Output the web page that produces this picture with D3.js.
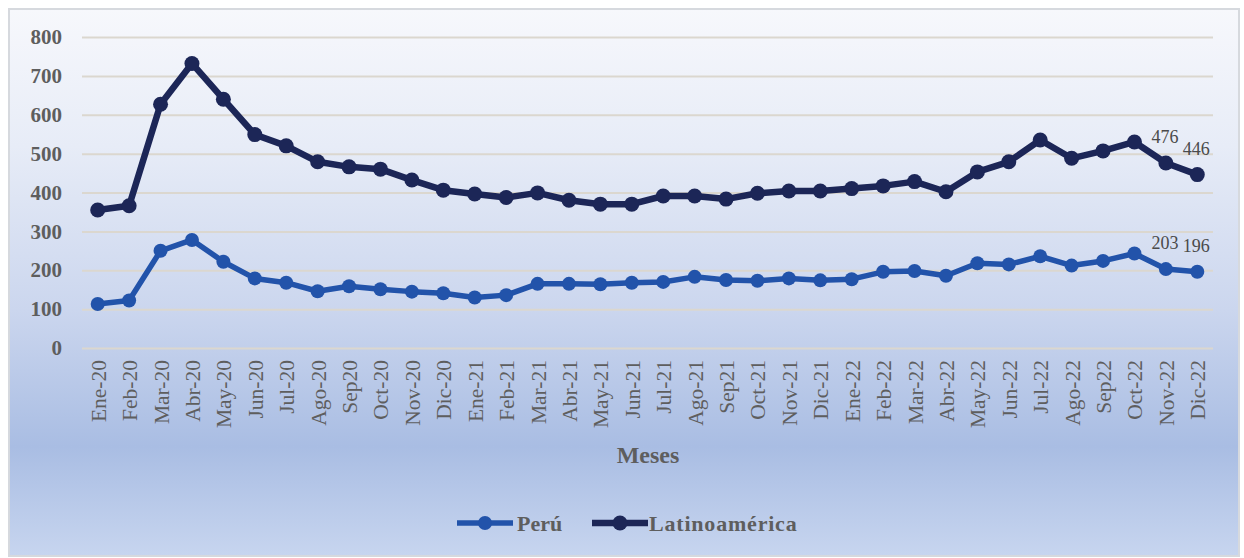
<!DOCTYPE html>
<html>
<head>
<meta charset="utf-8">
<script src="https://cdn.jsdelivr.net/npm/d3@7"></script>
<style>
  html, body { margin: 0; padding: 0; background: #ffffff; }
  svg { display: block; }
  text { font-family: "Liberation Serif", "Times New Roman", serif; }
</style>
</head>
<body>
<svg id="chart" width="1244" height="558"></svg>
<script>
const months = ["Ene-20","Feb-20","Mar-20","Abr-20","May-20","Jun-20","Jul-20","Ago-20","Sep20","Oct-20","Nov-20","Dic-20",
  "Ene-21","Feb-21","Mar-21","Abr-21","May-21","Jun-21","Jul-21","Ago-21","Sep21","Oct-21","Nov-21","Dic-21",
  "Ene-22","Feb-22","Mar-22","Abr-22","May-22","Jun-22","Jul-22","Ago-22","Sep22","Oct-22","Nov-22","Dic-22"];
const peru = [113,122,250,278,222,179,168,146,159,151,145,141,
  130,136,165,165,164,168,170,183,175,173,179,174,
  177,196,198,186,218,215,236,212,224,243,203,196];
const latam = [355,366,627,732,640,549,520,479,466,460,432,406,
  396,387,399,380,370,370,391,391,383,398,404,404,
  410,417,428,402,453,479,535,488,507,530,476,446];
const yTicks = [0,100,200,300,400,500,600,700,800];
const labeledIdx = [34,35];
const seriesNames = ["Perú","Latinoamérica"];
const seriesColors = ["#2253aa","#1c2657"];

const svg = d3.select("#chart");
const pL = 82, pR = 1213, pT = 37, pB = 348;

// background
const defs = svg.append("defs");
const grad = defs.append("linearGradient").attr("id","bg").attr("x1",0).attr("y1",0).attr("x2",0).attr("y2",1);
[[0,"#f7f8fc"],[0.25,"#e7ecf7"],[0.55,"#cbd6ee"],[0.8,"#a9bde3"],[1,"#c7d5ef"]].forEach(s=>{
  grad.append("stop").attr("offset",s[0]).attr("stop-color",s[1]);
});
svg.append("rect").attr("x",9).attr("y",9).attr("width",1230).attr("height",547)
  .attr("fill","url(#bg)").attr("stroke","#d6d9de").attr("stroke-width",2);

const x = d3.scalePoint().domain(months).range([pL,pR]).padding(0.5);
const y = d3.scaleLinear().domain([0,800]).range([pB,pT]);

// y axis with gridlines
const yAxis = svg.append("g").attr("transform",`translate(${pL},0)`)
  .call(d3.axisLeft(y).tickValues(yTicks).tickSize(-(pR-pL)).tickPadding(20).tickFormat(d3.format("d")));
yAxis.select(".domain").remove();
yAxis.selectAll(".tick line").attr("stroke","#dbd7cf").attr("stroke-width",2);
yAxis.selectAll(".tick text").attr("fill","#5e5e5e").attr("font-size","21px").attr("font-weight","bold")
  .style("font-family","'Liberation Serif', serif");

// x axis
const xAxis = svg.append("g").attr("transform",`translate(0,${pB})`)
  .call(d3.axisBottom(x).tickSize(0));
xAxis.select(".domain").remove();
xAxis.selectAll(".tick text")
  .attr("transform","rotate(-90)")
  .attr("x",-12).attr("y",0).attr("dy","0.35em")
  .attr("text-anchor","end")
  .attr("fill","#5e5e5e").attr("font-size","21.5px")
  .style("font-family","'Liberation Serif', serif");

// axis title
svg.append("text").attr("x",(pL+pR)/2 + 0.5).attr("y",463).attr("text-anchor","middle")
  .attr("font-size","24px").attr("font-weight","bold").attr("fill","#5e5e5e").text("Meses");

const line = d3.line().x((d,i)=>x(months[i])).y(d=>y(d));
const series = [peru, latam];
const widths = [5.5, 6.5];
const radii = [7, 7.5];
series.forEach((vals, si) => {
  svg.append("path").datum(vals).attr("d",line).attr("fill","none")
    .attr("stroke",seriesColors[si]).attr("stroke-width",widths[si]).attr("stroke-linejoin","round");
  svg.append("g").selectAll("circle").data(vals).join("circle")
    .attr("cx",(d,i)=>x(months[i])).attr("cy",d=>y(d)).attr("r",radii[si]).attr("fill",seriesColors[si]);
  svg.append("g").selectAll("text").data(labeledIdx).join("text")
    .attr("x",i=>x(months[i]) - 1).attr("y",i=>y(vals[i]) - 20)
    .attr("text-anchor","middle").attr("font-size","18px").attr("fill","#4a4a4a")
    .text(i=>vals[i]);
});

// legend
const legendItems = [
  {name: seriesNames[0], color: seriesColors[0], x0: 457, x1: 513, tx: 517, w: 5.5, r: 7},
  {name: seriesNames[1], color: seriesColors[1], x0: 592, x1: 648, tx: 649, w: 6.5, r: 7.5}
];
const ly = 523;
legendItems.forEach(it => {
  svg.append("line").attr("x1",it.x0).attr("x2",it.x1).attr("y1",ly).attr("y2",ly)
    .attr("stroke",it.color).attr("stroke-width",it.w);
  svg.append("circle").attr("cx",(it.x0+it.x1)/2).attr("cy",ly).attr("r",it.r).attr("fill",it.color);
  svg.append("text").attr("x",it.tx).attr("y",ly).attr("dy","0.35em")
    .attr("font-size","22px").attr("font-weight","bold").attr("fill","#5e5e5e")
    .attr("letter-spacing", it.name === "Latinoamérica" ? "0.8px" : "0px")
    .text(it.name);
});
</script>
</body>
</html>
